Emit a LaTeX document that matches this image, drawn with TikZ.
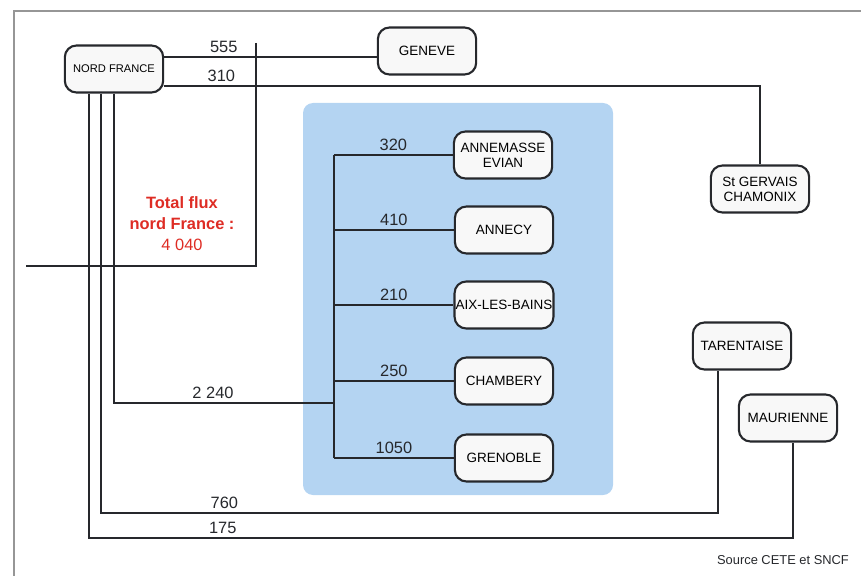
\documentclass[tikz,border=0pt]{standalone}
\usepackage{fontspec}
\setmainfont{Liberation Sans}
\usepackage{xcolor}
\usepackage{tikz}
\usetikzlibrary{positioning,calc}

\definecolor{linegray}{RGB}{38,40,44}
\definecolor{framegray}{RGB}{150,150,150}
\definecolor{cityfill}{RGB}{248,248,248}
\definecolor{panelblue}{RGB}{180,212,242}
\definecolor{fluxred}{RGB}{222,44,36}

\begin{document}
\begin{tikzpicture}[x=0.3mm, y=-0.3mm,
  city/.style={rectangle, rounded corners=3.5mm, draw=linegray, line width=1.8pt,
               fill=cityfill, font=\fontsize{11.5}{13}\selectfont, align=center,
               minimum width=2.95cm, minimum height=1.41cm, inner xsep=1pt},
  flow/.style={draw=linegray, line width=1.5pt},
  num/.style={font=\fontsize{14}{16}\selectfont, text=linegray},
  frame/.style={draw=framegray, line width=1.2pt}
]
\useasboundingbox (0,0) rectangle (861,576);
\draw[frame] (14,576) |- (861,11);
\fill[panelblue, rounded corners=3mm] (303,103) rectangle (613,495);

\node[city, font=\fontsize{9.5}{11}\selectfont] (nord) at (114,69) {NORD FRANCE};
\node[city] (geneve) at (427,51)  {GENEVE};
\node[city] (stgerv) at (760,189) {St GERVAIS\\CHAMONIX};
\node[city] (annem)  at (503,155) {ANNEMASSE\\EVIAN};
\node[city] (annecy) at (504,230) {ANNECY};
\node[city] (aix)    at (504,305) {AIX-LES-BAINS};
\node[city] (chamb)  at (504,381) {CHAMBERY};
\node[city] (gren)   at (504,458) {GRENOBLE};
\node[city] (tarent) at (742,346) {TARENTAISE};
\node[city] (maur)   at (788,418) {MAURIENNE};

\node[align=center, text=fluxred, font=\fontsize{14}{18}\selectfont] (total) at (182,224)
  {\textbf{Total flux}\\\textbf{nord France :}\\4 040};
\node[anchor=east, text=linegray, font=\fontsize{11}{13}\selectfont] (src) at (853,560)
  {Source CETE et SNCF};

\coordinate (l555) at (0,57);
\coordinate (l310) at (0,86);
\coordinate (hub)  at (334,403);
\coordinate (c760) at (718,513);
\coordinate (c175) at (793,538);
\coordinate (brtop) at (256,43);
\coordinate (brend) at (26,266);

\draw[flow, line width=1pt] (brtop) |- (brend);
\draw[flow] (nord.east |- l555) -- node[num, above, pos=0.28]{555} (geneve.west |- l555);
\draw[flow] (nord.east |- l310) -| node[num, above, pos=0.048]{310} (stgerv.north);
\draw[flow] (nord.south) |- node[num, above, pos=0.725]{2 240} (hub);
\draw[flow] ($(nord.south)+(-13,0)$) |- node[num, above, pos=0.6]{760} (c760) -- (c760 |- tarent.south);
\draw[flow] ($(nord.south)+(-25,0)$) |- node[num, above, pos=0.595]{175} (c175) -- (c175 |- maur.south);

\draw[flow] (hub |- annem.west) -- (hub |- gren.west);
\foreach \n/\v in {annem/320, annecy/410, aix/210, chamb/250, gren/1050}
  \draw[flow] (hub |- \n.west) -- node[num, above]{\v} (\n.west);
\end{tikzpicture}
\end{document}
